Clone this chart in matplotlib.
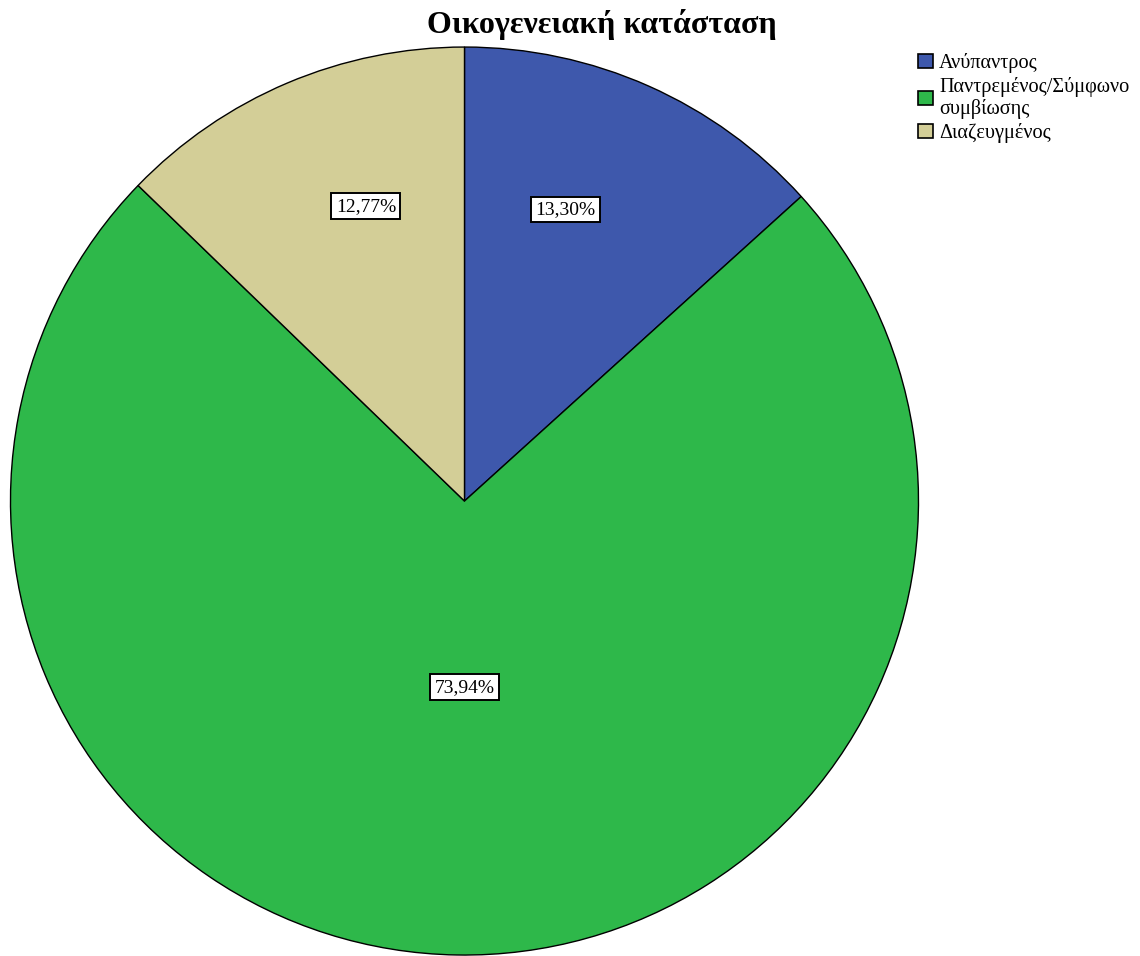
import numpy as np
import matplotlib
matplotlib.use("Agg")
import matplotlib.pyplot as plt
from matplotlib.patches import Patch

plt.rcParams['font.family'] = ['Liberation Serif', 'DejaVu Serif']

categories = ["Ανύπαντρος", "Παντρεμένος/Σύμφωνο\nσυμβίωσης", "Διαζευγμένος"]
values = [13.30, 73.94, 12.77]
label_texts = ["13,30%", "73,94%", "12,77%"]
colors = ["#3E58AC", "#2EB84A", "#D3CE97"]
label_radius = [0.68, 0.41, 0.685]
label_shift = [4.8, 0.9, -4.5]  # degrees, nudges along the arc

fig = plt.figure(figsize=(11.4, 9.56), dpi=100)
ax = fig.add_axes([0.0092, 0.001, 908 / 1140, 908 / 956])
wedges, _ = ax.pie(values, colors=colors, startangle=90, counterclock=False,
                   wedgeprops=dict(edgecolor="black", linewidth=1.0))
ax.set_xlim(-1.0, 1.0)
ax.set_ylim(-1.0, 1.0)
ax.set_aspect("equal")
ax.axis("off")

for w, txt, r, s in zip(wedges, label_texts, label_radius, label_shift):
    ang = np.deg2rad((w.theta1 + w.theta2) / 2 + s)
    ax.text(r * np.cos(ang), r * np.sin(ang), txt, ha="center", va="center",
            fontsize=14,
            bbox=dict(boxstyle="square,pad=0.22", facecolor="white",
                      edgecolor="black", linewidth=1.4))

fig.text(602 / 1140, 1 - 24 / 956, "Οικογενειακή κατάσταση", ha="center",
         va="center", fontsize=23, fontweight="bold")

handles = [Patch(facecolor=c, edgecolor="black", linewidth=1.2) for c in colors]
leg = fig.legend(handles, categories, loc="upper left",
                 bbox_to_anchor=(918 / 1140, 1 - 53 / 956), frameon=False,
                 fontsize=14.6, handlelength=0.75, handleheight=0.75,
                 handletextpad=0.3, labelspacing=0.22, borderaxespad=0,
                 borderpad=0)
for t in leg.get_texts():
    t.set_linespacing(1.08)

fig.savefig("out.png", dpi=100, facecolor="white")
